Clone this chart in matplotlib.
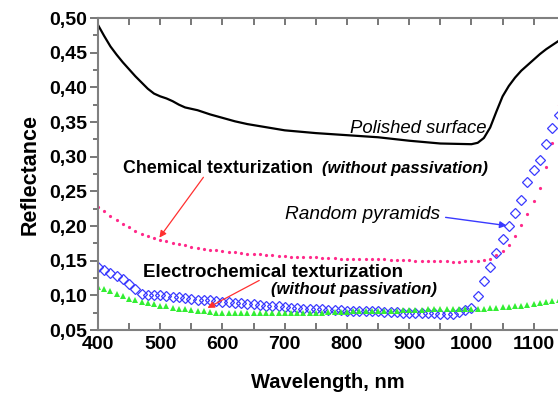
import numpy as np
import matplotlib
matplotlib.use("Agg")
import matplotlib.pyplot as plt
from matplotlib.ticker import MultipleLocator

plt.rcParams['font.family'] = ['Liberation Sans', 'DejaVu Sans']

# Polished surface (solid black line)
wl_polished = [400, 410, 420, 430, 440, 450, 460, 470, 480, 490, 500, 510, 520, 530, 540,
               560, 580, 600, 620, 640, 660, 680, 700, 750, 800, 850, 900, 950, 1000,
               1010, 1020, 1030, 1040, 1050, 1060, 1070, 1080, 1090, 1100, 1110, 1120, 1130, 1140]
r_polished = [0.490, 0.474, 0.459, 0.447, 0.436, 0.426, 0.416, 0.407, 0.398, 0.391, 0.387, 0.384, 0.380, 0.375, 0.371,
              0.367, 0.361, 0.356, 0.351, 0.347, 0.344, 0.341, 0.338, 0.334, 0.331, 0.328, 0.323, 0.319, 0.318,
              0.320, 0.327, 0.342, 0.365, 0.387, 0.402, 0.414, 0.424, 0.432, 0.440, 0.448, 0.455, 0.461, 0.467]

# Muestras cada 10 nm
wl = np.arange(400, 1141, 10)

# Chemical texturization (pink dots)
r_chemical = [0.227, 0.221, 0.215, 0.209, 0.203, 0.198, 0.193, 0.189, 0.185, 0.182,
              0.180, 0.178, 0.176, 0.174, 0.172, 0.170, 0.169, 0.167, 0.166, 0.165,
              0.164, 0.163, 0.162, 0.161, 0.160, 0.160, 0.159, 0.158, 0.158, 0.157,
              0.157, 0.156, 0.156, 0.155, 0.155, 0.155, 0.154, 0.154, 0.154, 0.153,
              0.153, 0.153, 0.153, 0.152, 0.152, 0.152, 0.152, 0.151, 0.151, 0.151,
              0.151, 0.150, 0.150, 0.150, 0.150, 0.149, 0.149, 0.148, 0.148, 0.149,
              0.149, 0.150, 0.151, 0.153, 0.158, 0.164, 0.173, 0.186, 0.202, 0.218,
              0.236, 0.255, 0.285, 0.320, 0.375]

# Random pyramids (blue open diamonds)
r_pyramids = [0.141, 0.137, 0.132, 0.128, 0.123, 0.117, 0.109, 0.102, 0.100, 0.100,
              0.100, 0.099, 0.098, 0.097, 0.096, 0.095, 0.094, 0.094, 0.093, 0.092,
              0.091, 0.090, 0.089, 0.089, 0.088, 0.087, 0.086, 0.085, 0.085, 0.084,
              0.083, 0.082, 0.082, 0.081, 0.081, 0.080, 0.080, 0.079, 0.079, 0.079,
              0.078, 0.078, 0.078, 0.077, 0.077, 0.077, 0.076, 0.076, 0.076, 0.075,
              0.075, 0.075, 0.075, 0.074, 0.074, 0.073, 0.073, 0.073, 0.076, 0.079,
              0.082, 0.099, 0.120, 0.141, 0.161, 0.181, 0.200, 0.219, 0.237, 0.263,
              0.281, 0.295, 0.318, 0.341, 0.360]

# Electrochemical texturization (green triangles)
r_electro = [0.112, 0.109, 0.106, 0.102, 0.099, 0.095, 0.093, 0.091, 0.089, 0.087,
             0.085, 0.084, 0.082, 0.081, 0.080, 0.079, 0.078, 0.077, 0.076, 0.075,
             0.075, 0.074, 0.074, 0.074, 0.074, 0.074, 0.074, 0.074, 0.074, 0.074,
             0.074, 0.074, 0.075, 0.075, 0.075, 0.075, 0.075, 0.076, 0.076, 0.076,
             0.076, 0.077, 0.077, 0.077, 0.077, 0.078, 0.078, 0.078, 0.078, 0.079,
             0.079, 0.079, 0.079, 0.080, 0.080, 0.080, 0.080, 0.080, 0.081, 0.081,
             0.081, 0.081, 0.081, 0.082, 0.082, 0.083, 0.083, 0.084, 0.085, 0.086,
             0.088, 0.089, 0.090, 0.092, 0.093]

fig = plt.figure(figsize=(5.58, 3.94), dpi=100)
ax = fig.add_axes([0.1756, 0.1624, 0.8244, 0.7919])

ax.plot(wl_polished, r_polished, color="black", lw=1.6)
ax.plot(wl, r_chemical, ls="none", marker="o", ms=2.3, color="#ff2a8a", mew=0)
ax.plot(wl, r_pyramids, ls="none", marker="D", ms=4.8, mfc="none", mec="#3a3aff", mew=0.9)
ax.plot(wl, r_electro, ls="none", marker="^", ms=4.2, color="#33ee33", mew=0)

ax.set_xlim(400, 1139)
ax.set_ylim(0.05, 0.50)

# Ejes y marcas
for s in ["left", "bottom", "top"]:
    ax.spines[s].set_color("#808080")
    ax.spines[s].set_linewidth(1.5)
ax.spines["right"].set_visible(False)

ax.xaxis.set_major_locator(MultipleLocator(100))
ax.xaxis.set_minor_locator(MultipleLocator(50))
ax.yaxis.set_major_locator(MultipleLocator(0.05))
ax.yaxis.set_minor_locator(MultipleLocator(0.025))
ax.yaxis.set_major_formatter(plt.FuncFormatter(lambda v, p: f"{v:.2f}".replace(".", ",")))

ax.tick_params(axis="x", which="both", direction="in", top=True, color="#606060", width=1.2)
ax.tick_params(axis="x", which="major", length=5, labelsize=14, pad=4)
ax.tick_params(axis="x", which="minor", length=5)
ax.tick_params(axis="y", which="both", direction="out", color="#606060", width=1.2)
ax.tick_params(axis="y", which="major", length=6, labelsize=14, pad=2)
ax.tick_params(axis="y", which="minor", length=3.5)
for lbl in ax.get_xticklabels() + ax.get_yticklabels():
    lbl.set_fontweight("bold")

ax.set_xlabel("Wavelength, nm", fontsize=14.5, fontweight="bold", labelpad=15)
ax.set_ylabel("Reflectance", fontsize=15.5, fontweight="bold", labelpad=6)

# Textos y flechas
ax.text(914, 0.341, "Polished surface", style="italic", fontsize=13.3,
        ha="center", va="center")
ax.text(440, 0.2835, "Chemical texturization", fontweight="bold", fontsize=12.8,
        ha="left", va="center")
ax.text(760, 0.2835, "(without passivation)", fontweight="bold", style="italic",
        fontsize=12, ha="left", va="center")
ax.text(700, 0.216, "Random pyramids", style="italic", fontsize=13.8,
        ha="left", va="center")
ax.text(472, 0.1335, "Electrochemical texturization", fontweight="bold", fontsize=13.5,
        ha="left", va="center")
ax.text(944, 0.109, "(without passivation)", fontweight="bold", style="italic",
        fontsize=12, ha="right", va="center")

ax.annotate("", xy=(496, 0.180), xytext=(572, 0.2735),
            arrowprops=dict(arrowstyle="-|>", color="#ff3030", lw=0.9, mutation_scale=10))
ax.annotate("", xy=(572, 0.080), xytext=(663, 0.1234),
            arrowprops=dict(arrowstyle="-|>", color="#ff3030", lw=0.9, mutation_scale=10))
ax.annotate("", xy=(1061, 0.200), xytext=(954, 0.213),
            arrowprops=dict(arrowstyle="-|>", color="#3a3aff", lw=1.0, mutation_scale=10))

fig.savefig("out.png", dpi=100)
